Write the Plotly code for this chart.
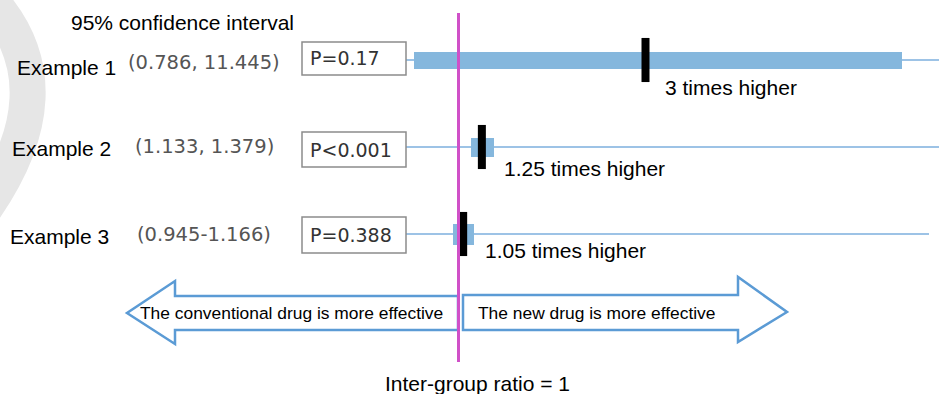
import plotly.graph_objects as go

# ---------------- data ----------------
examples = ["Example 1", "Example 2", "Example 3"]
ci_text = ["(0.786, 11.445)", "(1.133, 1.379)", "(0.945-1.166)"]
p_text = ["P=0.17", "P<0.001", "P=0.388"]
effect_text = ["3 times higher", "1.25 times higher", "1.05 times higher"]
# values as drawn on the (schematic) ratio axis
ci_low = [0.524, 1.133, 0.945]
ci_high = [5.743, 1.379, 1.166]
estimate = [3.0, 1.25, 1.05]
null_ratio = 1.0

# ---------------- layout helpers (pixel positions) ----------------
W, H = 939, 394
rows = [0, 1, 2]
row_px0, row_gap = 60, 87
y_rng = [(H - row_px0) / row_gap, -row_px0 / row_gap]
px_per_unit, null_px = 93.5, 458.5
x_rng = [null_ratio - null_px / px_per_unit, null_ratio + (W - null_px) / px_per_unit]

bar_h_px = [17, 19, 21]
label_x = [15, 10, 8]
label_y = [67, 148, 236]
ci_x = [126, 133, 135]
ci_y = [62, 146, 234]
pbox_y = [(42, 75), (132, 167), (217, 253)]
p_y = [58, 150, 235]
guide_end = [939, 939, 929]
eff_shift = [17, 20, 20]
eff_y = [87, 168, 250]

ARIAL = "Liberation Sans, Arial, sans-serif"
VERD = "DejaVu Sans, Verdana, sans-serif"
BLUE = "#85b7dd"
GUIDE = "#9dc3e6"
ARROW = "#5b9bd5"
PINK = "#d050c8"

fig = go.Figure()

# confidence-interval bars
fig.add_trace(go.Bar(
    orientation="h", y=rows,
    x=[h - l for l, h in zip(ci_low, ci_high)], base=ci_low,
    width=[h / row_gap for h in bar_h_px],
    marker=dict(color=BLUE, line=dict(width=0)),
    hoverinfo="skip", showlegend=False,
))

# null line (ratio = 1)
fig.add_trace(go.Scatter(
    x=[null_ratio, null_ratio], y=[13, 362], xaxis="x", yaxis="y2",
    mode="lines", line=dict(color=PINK, width=3),
    hoverinfo="skip", showlegend=False,
))

# point estimates
fig.add_trace(go.Scatter(
    x=estimate, y=rows, mode="markers",
    marker=dict(symbol="line-ns", size=31.5, color="black",
                line=dict(width=8, color="black")),
    hoverinfo="skip", showlegend=False,
))

shapes = []
# watermark arc
shapes.append(dict(type="path", xref="x2", yref="y2", layer="below",
                   path="M -10,0 Q 70,90 -20,215",
                   line=dict(color="#e6e6e6", width=36)))
# row guide lines and P boxes
for i in rows:
    shapes.append(dict(type="line", xref="x2", yref="y", layer="below",
                       x0=406, x1=guide_end[i], y0=i, y1=i,
                       line=dict(color=GUIDE, width=2)))
    shapes.append(dict(type="rect", xref="x2", yref="y2", layer="below",
                       x0=302, x1=406, y0=pbox_y[i][0], y1=pbox_y[i][1],
                       line=dict(color="#8c8c8c", width=1.5), fillcolor="white"))
# arrows
shapes.append(dict(type="path", xref="x2", yref="y2", layer="below",
                   path="M 458,296 L 175,296 L 175,281 L 127,313 L 175,344 L 175,330 L 458,330 Z",
                   line=dict(color=ARROW, width=2.5), fillcolor="white"))
shapes.append(dict(type="path", xref="x2", yref="y2", layer="below",
                   path="M 463,295 L 738,295 L 738,277 L 787,312 L 738,342 L 738,330 L 463,330 Z",
                   line=dict(color=ARROW, width=2.5), fillcolor="white"))

ann = []
def txt(x, y, text, font, size, color="black", xref="x2", yref="y2", xanchor="left", xshift=0):
    ann.append(dict(x=x, y=y, xref=xref, yref=yref, text=text, showarrow=False,
                    xanchor=xanchor, yanchor="middle", xshift=xshift,
                    font=dict(family=font, size=size, color=color)))

txt(69, 22, "95% confidence interval", ARIAL, 21)
for i in rows:
    txt(label_x[i], label_y[i], examples[i], ARIAL, 21)
    txt(ci_x[i], ci_y[i], ci_text[i], VERD, 19.5, color="#555555")
    txt(308, p_y[i], p_text[i], VERD, 19, color="#333333")
    txt(estimate[i], eff_y[i], effect_text[i], ARIAL, 21, xref="x", xshift=eff_shift[i])
txt(138, 313, "The conventional drug is more effective", ARIAL, 17.4)
txt(476, 313, "The new drug is more effective", ARIAL, 17.4)
txt(477.5, 383, "Inter-group ratio = 1", ARIAL, 21, xanchor="center")

fig.update_layout(
    width=W, height=H, margin=dict(l=0, r=0, t=0, b=0),
    paper_bgcolor="white", plot_bgcolor="white",
    xaxis=dict(range=x_rng, visible=False, fixedrange=True),
    yaxis=dict(range=y_rng, visible=False, fixedrange=True),
    xaxis2=dict(range=[0, W], overlaying="x", visible=False),
    yaxis2=dict(range=[H, 0], overlaying="y", visible=False),
    shapes=shapes, annotations=ann, showlegend=False, bargap=0,
)

fig.write_html("out.html", post_script="document.body.style.margin='0';",
               config={"displayModeBar": False})
